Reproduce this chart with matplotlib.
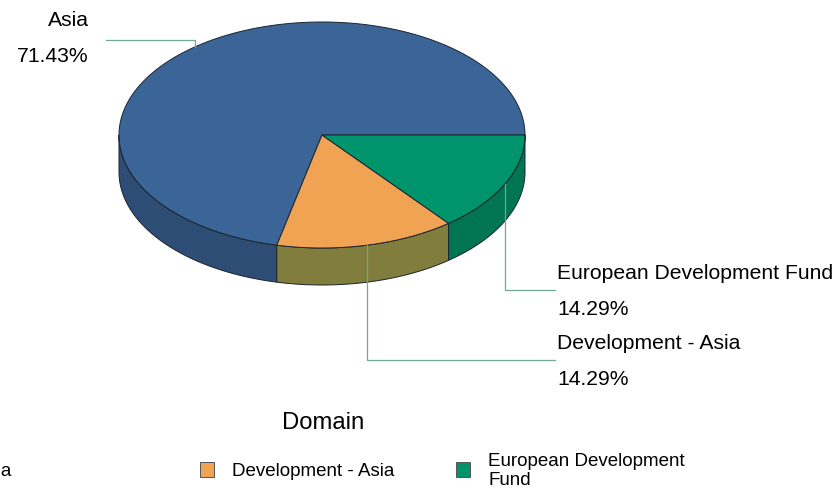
import numpy as np
import matplotlib
matplotlib.use("Agg")
import matplotlib.pyplot as plt
from matplotlib.patches import Polygon, Rectangle

plt.rcParams['font.family'] = ['Liberation Sans', 'DejaVu Sans']

# data
labels = ["Asia", "Development - Asia", "European Development Fund"]
legend_labels = ["Asia", "Development - Asia", "European Development\nFund"]
values = [5, 1, 1]
top_colors = ['#3a6596', '#f0a453', '#00946c']
side_colors = ['#2e4d75', '#817d3c', '#007552']

# geometry in pixel units (figure is 840x490)
cx, cy, rx, ry, depth = 322, 135, 203, 113, 37
edge = '#1c2430'
leader = '#6fa898'

fig = plt.figure(figsize=(8.4, 4.9), dpi=100)
ax = fig.add_axes([0, 0, 1, 1])
ax.set_xlim(0, 840)
ax.set_ylim(490, 0)
ax.axis('off')

total = float(sum(values))
pct = [v / total * 100 for v in values]
bounds = np.concatenate([[0], np.cumsum(values) / total * 360.0])


def pt(a, dy=0):
    r = np.radians(a)
    return cx + rx * np.cos(r), cy - ry * np.sin(r) + dy


# side walls (front half: 180..360 degrees)
for i in range(len(values)):
    a0, a1 = max(bounds[i], 180), min(bounds[i + 1], 360)
    if a1 <= a0:
        continue
    angs = np.linspace(a0, a1, 80)
    top = [pt(a) for a in angs]
    bot = [pt(a, depth) for a in angs[::-1]]
    ax.add_patch(Polygon(top + bot, closed=True, facecolor=side_colors[i],
                         edgecolor=edge, linewidth=0.7, zorder=2))

# top faces
for i in range(len(values)):
    angs = np.linspace(bounds[i], bounds[i + 1], 200)
    poly = [(cx, cy)] + [pt(a) for a in angs]
    ax.add_patch(Polygon(poly, closed=True, facecolor=top_colors[i],
                         edgecolor=edge, linewidth=0.7, zorder=3))

# leader lines and labels
fs = 15.2
for i in range(len(values)):
    mid = (bounds[i] + bounds[i + 1]) / 2
    x0, y0 = pt(mid)
    txt = f"{pct[i]:.2f}%"
    if x0 < cx:
        ey = 40
        ax.plot([x0, x0, 106], [y0, ey, ey], color=leader, lw=0.9, zorder=4)
        ax.text(89, 21, labels[i], ha='right', va='center', fontsize=fs)
        ax.text(89, 57, txt, ha='right', va='center', fontsize=fs)
    else:
        ey = 290 if mid > 300 else 360
        ax.plot([x0, x0, 555], [y0, ey, ey], color=leader, lw=0.9, zorder=4)
        ax.text(557, ey - 17, labels[i], ha='left', va='center', fontsize=fs)
        ax.text(557, ey + 19, txt, ha='left', va='center', fontsize=fs)

# legend
ax.text(323, 423, "Domain", ha='center', va='center', fontsize=17.2)
for i, lab in enumerate(legend_labels):
    lx = -56 + i * 256
    ax.add_patch(Rectangle((lx, 462), 14, 15, facecolor=top_colors[i],
                           edgecolor='#555555', linewidth=0.7))
    ax.text(lx + 32, 471, lab, ha='left', va='center', fontsize=13.5,
            linespacing=1.18)

fig.savefig("out.png", dpi=100)
